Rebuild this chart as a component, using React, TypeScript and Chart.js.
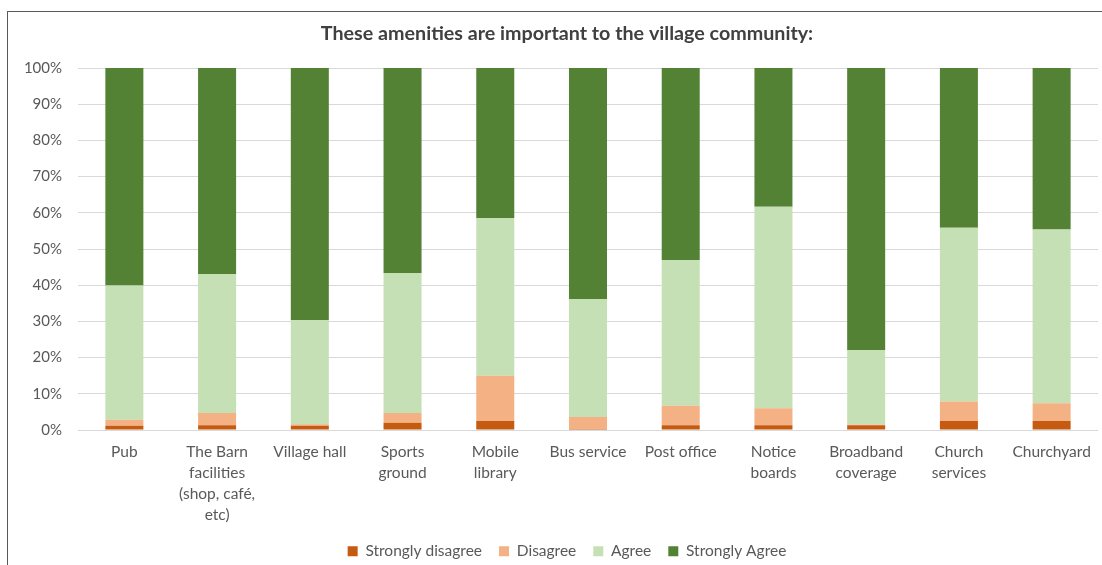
import React, { useEffect, useRef } from "react";
import { Chart, registerables } from "chart.js";

Chart.register(...registerables);

const categories: (string | string[])[] = [
  "Pub",
  ["The Barn", "facilities", "(shop, café,", "etc)"],
  "Village hall",
  ["Sports", "ground"],
  ["Mobile", "library"],
  "Bus service",
  "Post office",
  ["Notice", "boards"],
  ["Broadband", "coverage"],
  ["Church", "services"],
  "Churchyard",
];

const stronglyDisagree = [1.2, 1.3, 1.2, 2.0, 2.5, 0.3, 1.3, 1.3, 1.3, 2.5, 2.5];
const disagree = [1.6, 3.4, 0.4, 2.7, 12.5, 3.3, 5.4, 4.7, 0.2, 5.4, 4.9];
const agree = [37.1, 38.4, 28.7, 38.7, 43.6, 32.6, 40.2, 55.7, 20.6, 48.0, 48.0];
const stronglyAgree = [60.1, 56.9, 69.7, 56.6, 41.4, 63.8, 53.1, 38.3, 77.9, 44.1, 44.6];

const seriesNames = ["Strongly disagree", "Disagree", "Agree", "Strongly Agree"];
const seriesColors = ["#c55a11", "#f4b183", "#c5e0b4", "#548235"];

const titleText = "These amenities are important to the village community:";
const FONT = "Lato, 'Open Sans', sans-serif";

// The original chart is cropped on the right, so its title and legend sit right of centre.
const shiftCentred = {
  id: "shiftCentred",
  afterLayout(chart: any) {
    const dx = 18;
    for (const box of [chart.titleBlock, chart.legend]) {
      if (box) {
        box.left += dx;
        box.right += dx;
      }
    }
  },
};

export default function App() {
  const ref = useRef<HTMLCanvasElement | null>(null);

  useEffect(() => {
    if (!ref.current) return;
    const values = [stronglyDisagree, disagree, agree, stronglyAgree];
    const chart = new Chart(ref.current, {
      type: "bar",
      data: {
        labels: categories,
        datasets: values.map((v, i) => ({
          label: seriesNames[i],
          data: v,
          backgroundColor: seriesColors[i],
          borderWidth: 0,
          barPercentage: 0.41,
          categoryPercentage: 1,
        })),
      },
      plugins: [shiftCentred],
      options: {
        animation: false,
        responsive: false,
        maintainAspectRatio: false,
        layout: { padding: { left: 0, right: 4, top: 0, bottom: 0 } },
        plugins: {
          title: {
            display: true,
            text: titleText,
            color: "#404040",
            font: { family: FONT, size: 19.7, weight: "bold", lineHeight: 1.2 },
            padding: { top: 22, bottom: 22.4 },
          },
          legend: {
            position: "bottom",
            labels: {
              color: "#595959",
              font: { family: FONT, size: 15.5 },
              boxWidth: 10,
              boxHeight: 10,
              padding: 17,
            },
          },
          tooltip: { enabled: false },
        },
        scales: {
          x: {
            stacked: true,
            grid: { display: false, drawTicks: false },
            border: { display: false },
            ticks: {
              color: "#595959",
              font: { family: FONT, size: 15.5, lineHeight: 1.37 },
              padding: 11,
              maxRotation: 0,
              autoSkip: false,
            },
            afterFit: (s: any) => {
              s.height = 96.5;
            },
          },
          y: {
            stacked: true,
            min: 0,
            max: 100,
            grid: { color: "#d9d9d9", lineWidth: 1, drawTicks: false },
            border: { display: false },
            ticks: {
              stepSize: 10,
              color: "#595959",
              font: { family: FONT, size: 15 },
              padding: 16,
              callback: (v: any) => v + "%",
            },
            afterFit: (s: any) => {
              s.width = 78;
            },
          },
        },
      },
    });
    return () => chart.destroy();
  }, []);

  return (
    <div
      style={{
        position: "fixed",
        left: 0,
        top: 0,
        width: 1102,
        height: 565,
        background: "#fff",
        overflow: "hidden",
      }}
    >
      <canvas ref={ref} width={1102} height={569} style={{ position: "absolute", left: 0, top: 0 }} />
      <div
        style={{
          position: "absolute",
          left: 7,
          top: 11,
          width: 1110,
          height: 600,
          borderTop: "1px solid #595959",
          borderLeft: "1px solid #595959",
          pointerEvents: "none",
        }}
      />
    </div>
  );
}
